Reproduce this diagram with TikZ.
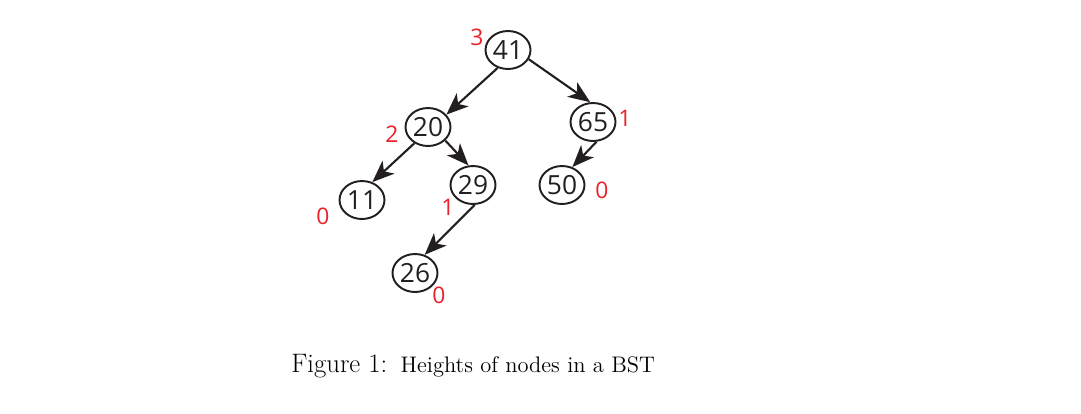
\documentclass[tikz,border=0pt]{standalone}
\usepackage{fontspec}
\newfontfamily\treefont{Open Sans}
\usetikzlibrary{shapes.geometric,arrows.meta}
\definecolor{hred}{RGB}{236,32,40}
\definecolor{ink}{RGB}{35,31,32}
\begin{document}
\begin{tikzpicture}[x=0.02cm,y=-0.02cm,
  bst/.style={ellipse,draw=ink,line width=1.1pt,minimum width=0.9cm,minimum height=0.76cm,inner sep=0pt,font=\treefont\fontsize{15}{15}\selectfont,text=ink},
  hlab/.style={text=hred,font=\treefont\fontsize{13}{13}\selectfont,inner sep=0pt},
  link/.style={draw=ink,line width=1.2pt,-{Stealth[length=12.5pt,width=10pt,inset=3.5pt]}}]
\useasboundingbox (0,0) rectangle (1081,413);
\node[bst] (n41) at (508,50) {41};
\node[bst] (n20) at (428,127) {20};
\node[bst] (n65) at (593,122) {65};
\node[bst] (n11) at (362,200) {11};
\node[bst] (n29) at (473,185) {29};
\node[bst] (n50) at (562,185) {50};
\node[bst] (n26) at (415,273) {26};
\node[hlab] (h41) at (477,37) {3};
\node[hlab] (h20) at (392,134) {2};
\node[hlab] (h65) at (625,118) {1};
\node[hlab] (h11) at (323,216) {0};
\node[hlab] (h29) at (448,207) {1};
\node[hlab] (h50) at (602,190) {0};
\node[hlab] (h26) at (439,295) {0};
\draw[link] (n41.240) -- (n20.34);
\draw[link] (n41.336) -- (n65.98);
\draw[link] (n20.230) -- (n11.60);
\draw[link] (n20.322) -- (n29.103);
\draw[link] (n29.275) -- (n26.62);
\draw[link] (n65.280) -- (n50.60);
\node[anchor=base west,inner sep=0pt] (cap) at (291,372) {\fontsize{15.2}{15.2}\selectfont Figure 1:\hspace{0.5em}\fontsize{12.8}{12.8}\selectfont Heights of nodes in a BST};
\end{tikzpicture}
\end{document}
